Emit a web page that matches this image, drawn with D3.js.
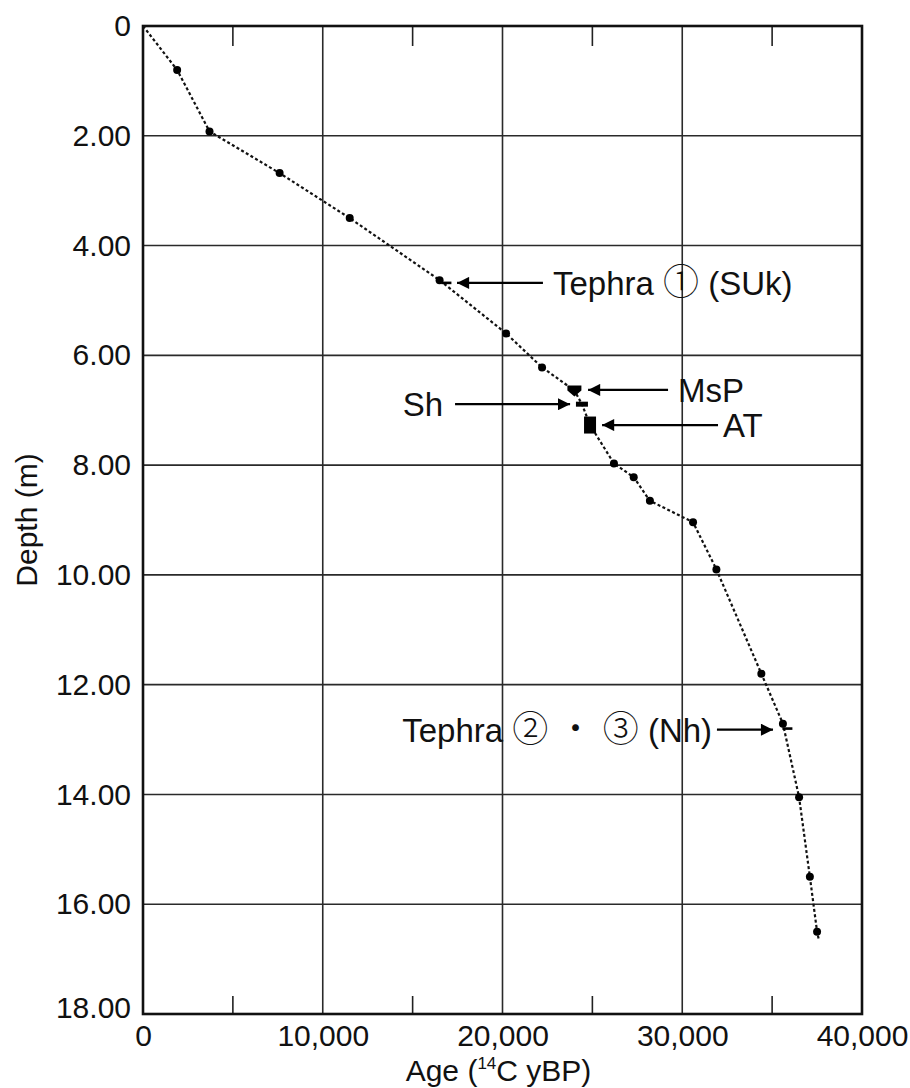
<!DOCTYPE html>
<html>
<head>
<meta charset="utf-8">
<script src="https://cdn.jsdelivr.net/npm/d3@7"></script>
<style>
  body { margin: 0; background: #fff; }
  svg text { font-family: "Liberation Sans", Arial, sans-serif; fill: #111; }
</style>
</head>
<body>
<script>
// age-depth model
var dotAges   = [1900, 3700, 7600, 11500, 16500, 20200, 22200, 26200, 27300, 28200, 30600, 31900, 34400, 35600, 36500, 37100, 37500]
var dotDepths = [0.8, 1.92, 2.68, 3.5, 4.63, 5.6, 6.22, 7.97, 8.22, 8.65, 9.04, 9.9, 11.8, 12.71, 14.05, 15.5, 16.5]

// tephra horizons (short dash beside the dated point)
var tephraAges   = [16880, 35850]
var tephraDepths = [4.68, 12.8]

// marker beds
var bedNames  = ['MsP', 'Sh', 'AT']
var bedAges   = [24000, 24420, 24870]
var bedDepths = [6.64, 6.89, 7.27]

var lineStart = [0, 0]
var lineEnd   = [37600, 16.65]

// arrows: label, depth, tail age, tip age, text age, text side
var noteLabels = ['Tephra \u2460 (SUk)', 'MsP', 'Sh', 'AT', 'Tephra \u2461 \u30fb \u2462 (Nh)']
var noteDepths = [4.68, 6.63, 6.89, 7.27, 12.82]
var noteTails  = [22250, 29210, 17360, 31990, 31930]
var noteTips   = [17470, 24760, 23760, 25540, 35050]
var noteTextAt = [22810, 29760, 16690, 32270, 31660]
var noteSide   = ['start', 'start', 'end', 'start', 'end']

var xTicks = [0, 10000, 20000, 30000, 40000]
var xMinor = [5000, 15000, 25000, 35000]
var yTicks = [0, 2, 4, 6, 8, 10, 12, 14, 16, 18]

var W = 910, H = 1088,
	padL = 143, padR = 862, padT = 26, padB = 1014

var svg = d3.select('body').append('svg')
	.attr('width', W)
	.attr('height', H)

var x = d3.scaleLinear().domain([0, 40000]).range([padL, padR])
var y = d3.scaleLinear().domain([0, 18]).range([padT, padB])

// grid
svg.append('g').selectAll('line').data(xTicks.slice(1, -1))
	.enter().append('line')
	.attr('x1', function(d){ return x(d) }).attr('x2', function(d){ return x(d) })
	.attr('y1', padT).attr('y2', padB)
	.attr('stroke', '#2a2a2a').attr('stroke-width', 1.6)

svg.append('g').selectAll('line').data(yTicks.slice(1, -1))
	.enter().append('line')
	.attr('y1', function(d){ return y(d) }).attr('y2', function(d){ return y(d) })
	.attr('x1', padL).attr('x2', padR)
	.attr('stroke', '#2a2a2a').attr('stroke-width', 1.6)

// minor ticks, top and bottom, pointing inward
var minor = svg.append('g')
minor.selectAll('.tb').data(xMinor).enter().append('line')
	.attr('x1', function(d){ return x(d) }).attr('x2', function(d){ return x(d) })
	.attr('y1', padB).attr('y2', padB - 18)
	.attr('stroke', '#222').attr('stroke-width', 1.6)
minor.selectAll('.tt').data(xMinor).enter().append('line')
	.attr('x1', function(d){ return x(d) }).attr('x2', function(d){ return x(d) })
	.attr('y1', padT).attr('y2', padT + 20)
	.attr('stroke', '#222').attr('stroke-width', 1.6)

// frame
svg.append('rect')
	.attr('x', padL).attr('y', padT)
	.attr('width', padR - padL).attr('height', padB - padT)
	.attr('fill', 'none').attr('stroke', '#111').attr('stroke-width', 2.6)

// axes labels via d3 axes, lines hidden
var xAxis = d3.axisBottom(x).tickValues(xTicks).tickSize(0).tickPadding(11)
	.tickFormat(function(d){ return d === 0 ? '0' : d3.format(',')(d) })
var xg = svg.append('g').attr('transform', 'translate(0,' + padB + ')').call(xAxis)
xg.select('.domain').remove()
xg.selectAll('text').style('font-size', '30px').attr('font-family', null)

var yAxis = d3.axisLeft(y).tickValues(yTicks).tickSize(0).tickPadding(12)
	.tickFormat(function(d){ return d === 0 ? '0' : d3.format('.2f')(d) })
var yg = svg.append('g').attr('transform', 'translate(' + padL + ',0)').call(yAxis)
yg.select('.domain').remove()
yg.selectAll('text').style('font-size', '30px').attr('font-family', null)
// 18.00 sits a little lower on the original
yg.selectAll('.tick').filter(function(d){ return d === 18 }).select('text').attr('dy', '0.1em')

var xLabel = svg.append('text')
	.attr('x', (padL + padR) / 2 - 4).attr('y', 1081)
	.attr('text-anchor', 'middle')
	.style('font-size', '30px')
xLabel.append('tspan').text('Age (')
xLabel.append('tspan').text('14').style('font-size', '17px').attr('dy', -12)
xLabel.append('tspan').text('C yBP)').attr('dy', 12)

svg.append('text')
	.attr('transform', 'translate(37,' + y(9) + ') rotate(-90)')
	.attr('text-anchor', 'middle')
	.style('font-size', '30px')
	.text('Depth (m)')

// dashed age-depth line
var pts = [lineStart]
dotAges.forEach(function(a, i){ pts.push([a, dotDepths[i]]) })
bedAges.forEach(function(a, i){ pts.push([a, bedDepths[i]]) })
pts.push(lineEnd)
pts.sort(function(a, b){ return a[1] - b[1] })

var line = d3.line()
	.x(function(d){ return x(d[0]) })
	.y(function(d){ return y(d[1]) })

svg.append('path')
	.datum(pts)
	.attr('d', line)
	.attr('fill', 'none')
	.attr('stroke', '#111')
	.attr('stroke-width', 2.2)
	.attr('stroke-dasharray', '3,2.4')

// dots
svg.append('g').selectAll('circle').data(dotAges)
	.enter().append('circle')
	.attr('cx', function(d){ return x(d) })
	.attr('cy', function(d, i){ return y(dotDepths[i]) })
	.attr('r', 4)
	.attr('fill', '#000')

// tephra dashes
svg.append('g').selectAll('line').data(tephraAges)
	.enter().append('line')
	.attr('x1', function(d){ return x(d) - 5 }).attr('x2', function(d){ return x(d) + 5 })
	.attr('y1', function(d, i){ return y(tephraDepths[i]) })
	.attr('y2', function(d, i){ return y(tephraDepths[i]) })
	.attr('stroke', '#000').attr('stroke-width', 2.6)

// marker beds
bedNames.forEach(function(name, i){
	var cx = x(bedAges[i]), cy = y(bedDepths[i])
	if (name === 'MsP') {
		svg.append('path')
			.attr('d', 'M' + (cx - 7) + ',' + (cy - 5) + 'h14v5l-7,6l-7,-6z')
			.attr('fill', '#000')
	} else if (name === 'Sh') {
		svg.append('rect')
			.attr('x', cx - 6).attr('y', cy - 2.5)
			.attr('width', 12).attr('height', 5)
			.attr('fill', '#000')
	} else {
		svg.append('rect')
			.attr('x', cx - 6).attr('y', cy - 8.5)
			.attr('width', 12).attr('height', 17)
			.attr('fill', '#000')
	}
})

// arrows and labels
svg.append('defs').append('marker')
	.attr('id', 'head')
	.attr('viewBox', '0 0 10 10')
	.attr('refX', 10).attr('refY', 5)
	.attr('markerWidth', 7).attr('markerHeight', 5.5)
	.attr('markerUnits', 'strokeWidth')
	.attr('orient', 'auto')
	.append('path').attr('d', 'M0,0L10,5L0,10z').attr('fill', '#000')

noteLabels.forEach(function(lab, i){
	var yy = y(noteDepths[i])
	svg.append('line')
		.attr('x1', x(noteTails[i])).attr('x2', x(noteTips[i]))
		.attr('y1', yy).attr('y2', yy)
		.attr('stroke', '#000').attr('stroke-width', 2.2)
		.attr('marker-end', 'url(#head)')

	var t = svg.append('text')
		.attr('x', x(noteTextAt[i])).attr('y', yy)
		.attr('dy', '0.36em')
		.attr('text-anchor', noteSide[i])
		.style('font-size', '33px')
	// circled digits come from the CJK font
	lab.split(/([\u2460-\u2462\u30fb])/).forEach(function(part){
		if (!part) return
		var s = t.append('tspan').text(part)
		if (/[\u2460-\u2462\u30fb]/.test(part))
			s.style('font-family', '"Noto Sans CJK JP"').style('font-weight', 300).style('font-size', '36px')
	})
})
</script>
</body>
</html>
